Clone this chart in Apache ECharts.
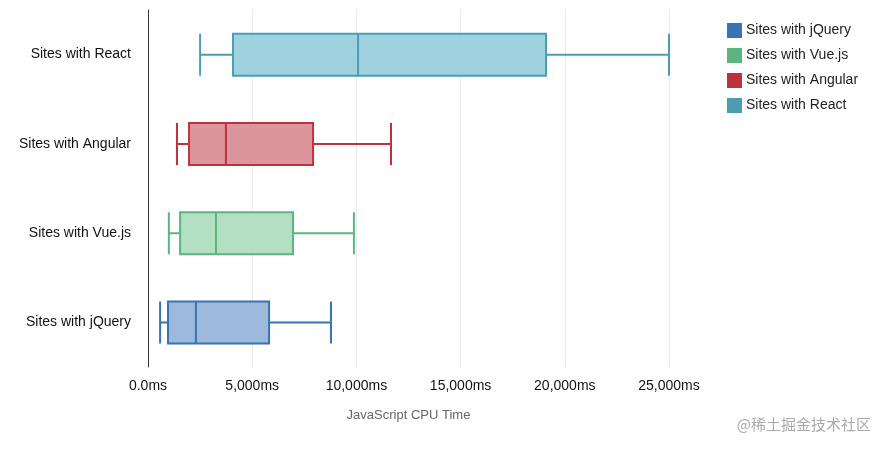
<!DOCTYPE html>
<html><head><meta charset="utf-8">
<script src="https://cdn.jsdelivr.net/npm/echarts@6/dist/echarts.min.js"></script>
<style>html,body{margin:0;padding:0;background:#fff}#c{width:885px;height:450px}</style>
</head><body><div id="c"></div>
<script>
const categories = ['Sites with jQuery','Sites with Vue.js','Sites with Angular','Sites with React'];
const jqueryBox = [580, 960, 2300, 5810, 8780];
const vueBox = [1000, 1540, 3260, 6960, 9880];
const angularBox = [1390, 1970, 3740, 7920, 11660];
const reactBox = [2500, 4080, 10080, 19100, 25000];
const boxes = [jqueryBox, vueBox, angularBox, reactBox];
const fills = ['#9db9db','#b3dfc3','#dc959c','#9fd1de'];
const borders = ['#3a73b3','#5db47e','#c0313e','#4a9db4'];
const chart = echarts.init(document.getElementById('c'));
chart.setOption({
  animation:false,
  grid:{left:148,right:216,top:10,bottom:83},
  legend:{orient:'vertical',left:722,top:18,itemWidth:13,itemHeight:13,itemGap:10,icon:'rect',
    textStyle:{fontSize:14,color:'#222',fontFamily:'Helvetica, Arial, sans-serif'},
    data:categories},
  xAxis:{type:'value',min:0,max:25000,interval:5000,
    axisLine:{show:false},axisTick:{show:false},
    axisLabel:{fontSize:14,color:'#111',margin:12,formatter:v=>v===0?'0.0ms':v.toLocaleString('en-US')+'ms'},
    splitLine:{lineStyle:{color:'#ebebeb'}},
    name:'JavaScript CPU Time',nameLocation:'middle',nameGap:42,
    nameTextStyle:{fontSize:13,color:'#666'}},
  yAxis: categories.map((_,i)=>({type:'category',data:categories,show:i===0,
    axisLine:{show:true,lineStyle:{color:'#333'}},axisTick:{show:false},
    axisLabel:{fontSize:14,color:'#111',margin:17}})),
  graphic:[{type:'text',right:14,bottom:18,style:{text:'@稀土掘金技术社区',fontSize:15,fill:'#aaa',fontFamily:'Noto Sans CJK SC'}}],
  series: categories.map((name,i)=>({
    name, type:'boxplot', yAxisIndex:i, boxWidth:[42,42],
    itemStyle:{color:fills[i],borderColor:borders[i],borderWidth:2},
    data: categories.map((_,j)=> j===i ? boxes[i] : '-')
  }))
});
</script></body></html>
